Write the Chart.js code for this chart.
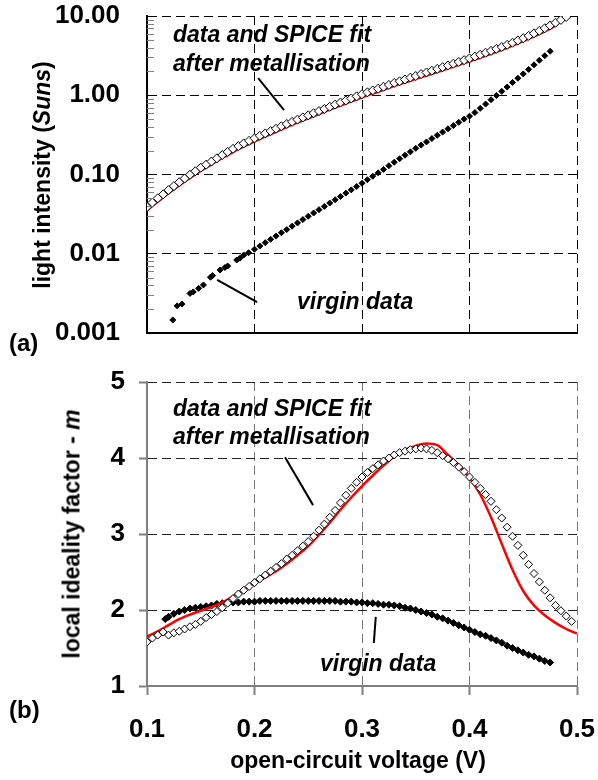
<!DOCTYPE html>
<html>
<head>
<meta charset="utf-8">
<script src="https://cdn.jsdelivr.net/npm/chart.js@4.4.0/dist/chart.umd.min.js"></script>
<style>
  body { margin: 0; background: #fff; }
  #wrap { position: relative; width: 598px; height: 780px; overflow: hidden;
          font-family: "Liberation Sans", Arial, sans-serif; font-weight: bold; color: #000; }
  canvas { position: absolute; left: 0; }
  .lbl { position: absolute; white-space: nowrap; font-size: 23px; line-height: 23px; }
  .note { font-style: italic; }
  .ytitle { position: absolute; white-space: nowrap; font-size: 23px; line-height: 23px;
            transform: translate(-50%, -50%) rotate(-90deg); }
</style>
</head>
<body>
<div id="wrap">
  <canvas id="light" width="598" height="345" style="top:0"></canvas>
  <canvas id="ideal" width="598" height="435" style="top:345px"></canvas>

  <div class="ytitle" style="left:42px; top:175px">light intensity (<i>Suns</i>)</div>
  <div class="ytitle" style="left:72px; top:534px">local ideality factor - <i>m</i></div>
  <div class="lbl" style="left:358px; top:749px; transform:translateX(-50%)">open-circuit voltage (V)</div>
  <div class="lbl" style="left:9px; top:331px; font-size:24px; line-height:24px">(a)</div>
  <div class="lbl" style="left:9px; top:698px; font-size:24px; line-height:24px">(b)</div>

  <div class="lbl note" style="left:173px; top:23px">data and SPICE fit</div>
  <div class="lbl note" style="left:173px; top:52px">after metallisation</div>
  <div class="lbl note" style="left:297px; top:290px">virgin data</div>
  <div class="lbl note" style="left:173px; top:397px">data and SPICE fit</div>
  <div class="lbl note" style="left:173px; top:425px">after metallisation</div>
  <div class="lbl note" style="left:320px; top:652px">virgin data</div>
</div>

<script>
// ── Axis ticks ──────────────────────────────────────────────────────
const voltTicks = [0.1, 0.2, 0.3, 0.4, 0.5];
const lightTicks = [0.001, 0.01, 0.1, 1, 10];
const lightTickLabels = ['0.001', '0.01', '0.10', '1.00', '10.00'];
const idealTicks = [1, 2, 3, 4, 5];

// ── Data after metallisation (open diamonds) ───────────────────────
const voltage = [
  0.100, 0.105, 0.110, 0.115, 0.120, 0.125, 0.130, 0.135, 0.140, 0.145,
  0.150, 0.155, 0.160, 0.165, 0.170, 0.175, 0.180, 0.185, 0.190, 0.195,
  0.200, 0.205, 0.210, 0.215, 0.220, 0.225, 0.230, 0.235, 0.240, 0.245,
  0.250, 0.255, 0.260, 0.265, 0.270, 0.275, 0.280, 0.285, 0.290, 0.295,
  0.300, 0.305, 0.310, 0.315, 0.320, 0.325, 0.330, 0.335, 0.340, 0.345,
  0.350, 0.355, 0.360, 0.365, 0.370, 0.375, 0.380, 0.385, 0.390, 0.395,
  0.400, 0.405, 0.410, 0.415, 0.420, 0.425, 0.430, 0.435, 0.440, 0.445,
  0.450, 0.455, 0.460, 0.465, 0.470, 0.475, 0.480, 0.485, 0.490, 0.495
];
const lightMetal = [
  0.0389, 0.0442, 0.0501, 0.0562, 0.0635, 0.0714, 0.0798, 0.0891, 0.0993, 0.110,
  0.122, 0.133, 0.146, 0.160, 0.176, 0.193, 0.211, 0.228, 0.247, 0.266,
  0.286, 0.308, 0.330, 0.353, 0.378, 0.406, 0.434, 0.462, 0.493, 0.525,
  0.558, 0.594, 0.632, 0.673, 0.716, 0.762, 0.809, 0.859, 0.912, 0.968,
  1.03, 1.09, 1.15, 1.21, 1.28, 1.35, 1.43, 1.50, 1.58, 1.67,
  1.75, 1.85, 1.94, 2.04, 2.15, 2.26, 2.38, 2.50, 2.63, 2.77,
  2.92, 3.08, 3.25, 3.44, 3.63, 3.85, 4.07, 4.33, 4.60, 4.91,
  5.25, 5.62, 6.04, 6.50, 7.01, 7.59, 8.22, 8.93, 9.73
];
const idealMetal = [
  1.58, 1.63, 1.67, 1.71, 1.67, 1.70, 1.72, 1.75, 1.78, 1.81,
  1.85, 1.90, 1.94, 1.98, 2.03, 2.09, 2.15, 2.21, 2.26, 2.31,
  2.36, 2.41, 2.46, 2.51, 2.56, 2.61, 2.67, 2.72, 2.78, 2.84,
  2.90, 2.97, 3.05, 3.13, 3.22, 3.31, 3.41, 3.51, 3.60, 3.68,
  3.75, 3.81, 3.86, 3.91, 3.96, 4.00, 4.04, 4.07, 4.09, 4.11,
  4.12, 4.13, 4.12, 4.10, 4.07, 4.03, 3.99, 3.94, 3.88, 3.82,
  3.75, 3.68, 3.60, 3.52, 3.43, 3.32, 3.21, 3.09, 2.97, 2.85,
  2.72, 2.60, 2.48, 2.37, 2.26, 2.16, 2.06, 1.99, 1.92, 1.85
];

// ── SPICE fit (red line) ──────────────────────────────────────────
const fitVoltage = [
  0.10, 0.11, 0.12, 0.13, 0.14, 0.15, 0.16, 0.17, 0.18, 0.19,
  0.20, 0.21, 0.22, 0.23, 0.24, 0.25, 0.26, 0.27, 0.28, 0.29,
  0.30, 0.31, 0.32, 0.33, 0.34, 0.35, 0.36, 0.37, 0.38, 0.39,
  0.40, 0.41, 0.42, 0.43, 0.44, 0.45, 0.46, 0.47, 0.48, 0.49,
  0.50
];
const lightFit = [
  0.036, 0.046, 0.059, 0.074, 0.092, 0.113, 0.136, 0.164, 0.196, 0.229,
  0.266, 0.307, 0.351, 0.403, 0.458, 0.519, 0.588, 0.666, 0.752, 0.848,
  0.955, 1.07, 1.19, 1.33, 1.47, 1.63, 1.80, 1.99, 2.21, 2.45,
  2.72, 3.03, 3.38, 3.79, 4.29, 4.89, 5.62, 6.50, 7.70, 9.80,
  12.0
];
const idealFit = [
  1.65, 1.72, 1.80, 1.88, 1.94, 1.99, 2.04, 2.10, 2.18, 2.27,
  2.35, 2.43, 2.51, 2.61, 2.72, 2.84, 2.99, 3.15, 3.32, 3.48,
  3.63, 3.77, 3.90, 4.02, 4.11, 4.16, 4.19, 4.17, 4.04, 3.91,
  3.74, 3.52, 3.22, 2.87, 2.53, 2.25, 2.06, 1.93, 1.83, 1.75,
  1.69
];

// ── Virgin data (filled diamonds) ─────────────────────────────────
const virginLightV = [
  0.124, 0.128, 0.1325, 0.140, 0.143, 0.148, 0.1525, 0.159, 0.161, 0.168,
  0.1725, 0.175, 0.1835, 0.1865, 0.190, 0.1945, 0.200,
  0.205, 0.210, 0.215, 0.220, 0.225, 0.230, 0.235, 0.240, 0.245, 0.250,
  0.255, 0.260, 0.265, 0.270, 0.275, 0.280, 0.285, 0.290, 0.295, 0.300,
  0.305, 0.310, 0.315, 0.320, 0.325, 0.330, 0.335, 0.340, 0.345, 0.350,
  0.355, 0.360, 0.365, 0.370, 0.375, 0.380, 0.385, 0.390, 0.395, 0.400,
  0.405, 0.410, 0.415, 0.420, 0.425, 0.430, 0.435, 0.440, 0.445, 0.450,
  0.455, 0.460, 0.465, 0.470, 0.475
];
const virginLight = [
  0.00146, 0.0022, 0.00232, 0.00316, 0.0033, 0.00366, 0.00404, 0.00505, 0.0053, 0.00624,
  0.0067, 0.0070, 0.00834, 0.0088, 0.00964, 0.0103, 0.0114,
  0.0125, 0.0138, 0.0152, 0.0167, 0.0184, 0.0202, 0.0223, 0.0245, 0.0270, 0.0297,
  0.0327, 0.0360, 0.0396, 0.0436, 0.0480, 0.0528, 0.0582, 0.0640, 0.0705, 0.0776,
  0.0859, 0.0951, 0.105, 0.116, 0.129, 0.143, 0.158, 0.175, 0.193, 0.214,
  0.235, 0.258, 0.284, 0.312, 0.343, 0.377, 0.414, 0.455, 0.500, 0.545,
  0.605, 0.684, 0.774, 0.877, 0.993, 1.12, 1.27, 1.45, 1.64, 1.86,
  2.12, 2.42, 2.76, 3.15, 3.59
];
const virginIdealV = [
  0.117, 0.120, 0.125, 0.130, 0.135, 0.140, 0.145, 0.150, 0.155, 0.160,
  0.165, 0.170, 0.175, 0.180, 0.185, 0.190, 0.195, 0.200, 0.205, 0.210,
  0.215, 0.220, 0.225, 0.230, 0.235, 0.240, 0.245, 0.250, 0.255, 0.260,
  0.265, 0.270, 0.275, 0.280, 0.285, 0.290, 0.295, 0.300, 0.305, 0.310,
  0.315, 0.320, 0.325, 0.330, 0.335, 0.340, 0.345, 0.350, 0.355, 0.360,
  0.365, 0.370, 0.375, 0.380, 0.385, 0.390, 0.395, 0.400, 0.405, 0.410,
  0.415, 0.420, 0.425, 0.430, 0.435, 0.440, 0.445, 0.450, 0.455, 0.460,
  0.465, 0.470, 0.475
];
const virginIdeal = [
  1.88, 1.91, 1.95, 1.98, 2.00, 2.02, 2.03, 2.04, 2.05, 2.06,
  2.08, 2.09, 2.09, 2.10, 2.10, 2.11, 2.11, 2.11, 2.12, 2.12,
  2.12, 2.12, 2.12, 2.12, 2.12, 2.12, 2.12, 2.12, 2.12, 2.12,
  2.12, 2.12, 2.12, 2.11, 2.11, 2.11, 2.10, 2.10, 2.09, 2.09,
  2.08, 2.07, 2.07, 2.06, 2.05, 2.03, 2.02, 2.00, 1.98, 1.96,
  1.94, 1.91, 1.89, 1.86, 1.83, 1.80, 1.77, 1.74, 1.71, 1.68,
  1.66, 1.63, 1.60, 1.57, 1.53, 1.50, 1.47, 1.44, 1.41, 1.39,
  1.36, 1.33, 1.31
];

// ── Leader lines (data coordinates: x1, y1, x2, y2) ───────────────
const lightLeaders = [[0.2034, 1.65, 0.2275, 0.65], [0.1653, 0.00467, 0.2024, 0.00246]];
const idealLeaders = [[0.2284, 4.01, 0.2545, 3.38], [0.3128, 1.91, 0.3110, 1.566]];

// ── Helpers ───────────────────────────────────────────────────────
const FONT = '"Liberation Sans", Arial, sans-serif';
const tickFont = { family: FONT, size: 26, weight: 'bold' };

function pts(xs, ys) {
  return ys.map((y, i) => ({ x: xs[i], y }));
}

function fixedTicks(values) {
  return scale => { scale.ticks = values.map(v => ({ value: v })); };
}

function leaderPlugin(lines) {
  return {
    id: 'leaders',
    afterDatasetsDraw(chart) {
      const { ctx, scales: { x, y } } = chart;
      ctx.save();
      ctx.strokeStyle = '#000';
      ctx.lineWidth = 2;
      lines.forEach(([x1, y1, x2, y2]) => {
        ctx.beginPath();
        ctx.moveTo(x.getPixelForValue(x1), y.getPixelForValue(y1));
        ctx.lineTo(x.getPixelForValue(x2), y.getPixelForValue(y2));
        ctx.stroke();
      });
      ctx.restore();
    }
  };
}

// minor log ticks drawn inside the plot, as in the original
const minorTicks = {
  id: 'minorTicks',
  afterDraw(chart) {
    const { ctx, chartArea, scales: { y } } = chart;
    ctx.save();
    ctx.strokeStyle = '#808080';
    ctx.lineWidth = 1;
    lightTicks.slice(0, -1).forEach(d => {
      for (let k = 2; k <= 9; k++) {
        const py = Math.round(y.getPixelForValue(k * d)) + 0.5;
        ctx.beginPath();
        ctx.moveTo(chartArea.left, py);
        ctx.lineTo(chartArea.left + 7, py);
        ctx.stroke();
      }
    });
    ctx.restore();
  }
};

function diamondSet(label, data, filled, radius) {
  return {
    label, data, showLine: false,
    pointStyle: 'rectRot', pointRadius: radius, pointBorderWidth: 1,
    pointBorderColor: '#000', pointBackgroundColor: filled ? '#000' : '#fff',
    borderColor: '#000', backgroundColor: filled ? '#000' : '#fff'
  };
}

function fitSet(data, width) {
  return {
    label: 'SPICE fit', data, showLine: true, pointRadius: 0,
    borderColor: '#ff0000', borderWidth: width, cubicInterpolationMode: 'monotone'
  };
}

// ── (a) light intensity ───────────────────────────────────────────
new Chart(document.getElementById('light'), {
  type: 'scatter',
  data: {
    datasets: [
      diamondSet('data after metallisation', pts(voltage, lightMetal), false, 4.5),
      fitSet(pts(fitVoltage, lightFit), 3.5),
      diamondSet('virgin data', pts(virginLightV, virginLight), true, 3)
    ]
  },
  options: {
    responsive: false, animation: false, devicePixelRatio: 1,
    layout: { padding: { left: 0, top: 16, right: 21, bottom: 0 } },
    plugins: { legend: { display: false }, tooltip: { enabled: false } },
    scales: {
      x: {
        type: 'linear', min: 0.1, max: 0.5,
        afterBuildTicks: fixedTicks(voltTicks),
        ticks: { display: false },
        grid: { color: '#000', lineWidth: 1, drawTicks: false },
        border: { display: true, color: '#000', width: 2, dash: [9, 5] },
        afterFit: s => { s.height = 12; s.paddingLeft = 0; s.paddingRight = 0; }
      },
      y: {
        type: 'logarithmic', min: 0.001, max: 10,
        afterBuildTicks: fixedTicks(lightTicks),
        ticks: {
          font: tickFont, color: '#000', padding: 27, autoSkip: false,
          callback: v => lightTickLabels[lightTicks.findIndex(t => Math.abs(t - v) < t * 1e-6)]
        },
        grid: { color: '#000', lineWidth: 1, drawTicks: false },
        border: { display: true, color: '#000', width: 2, dash: [9, 5] },
        afterFit: s => { s.width = 147; s.paddingTop = 0; s.paddingBottom = 0; }
      }
    }
  },
  plugins: [minorTicks, leaderPlugin(lightLeaders)]
});

// ── (b) local ideality factor ─────────────────────────────────────
new Chart(document.getElementById('ideal'), {
  type: 'scatter',
  data: {
    datasets: [
      diamondSet('data after metallisation', pts(voltage, idealMetal), false, 4),
      fitSet(pts(fitVoltage, idealFit), 2.5),
      diamondSet('virgin data', pts(virginIdealV, virginIdeal), true, 3.5)
    ]
  },
  options: {
    responsive: false, animation: false, devicePixelRatio: 1,
    layout: { padding: { left: 0, top: 37, right: 21, bottom: 0 } },
    plugins: { legend: { display: false }, tooltip: { enabled: false } },
    scales: {
      x: {
        type: 'linear', min: 0.1, max: 0.5,
        afterBuildTicks: fixedTicks(voltTicks),
        ticks: { font: tickFont, color: '#000', padding: 19, maxRotation: 0, autoSkip: false,
                 callback: v => v.toFixed(1) },
        grid: { color: '#777', lineWidth: 1, tickLength: 9, tickColor: '#808080', tickWidth: 2 },
        border: { display: true, color: '#808080', width: 2, dash: [9, 5] },
        afterFit: s => { s.height = 94; s.paddingLeft = 0; s.paddingRight = 0; }
      },
      y: {
        type: 'linear', min: 1, max: 5,
        afterBuildTicks: fixedTicks(idealTicks),
        ticks: { font: tickFont, color: '#000', padding: 14, autoSkip: false },
        grid: { color: '#222', lineWidth: 1, tickLength: 8, tickColor: '#808080', tickWidth: 2 },
        border: { display: true, color: '#808080', width: 2, dash: [9, 5] },
        afterFit: s => { s.width = 147; s.paddingTop = 0; s.paddingBottom = 0; }
      }
    }
  },
  plugins: [leaderPlugin(idealLeaders)]
});
</script>
</body>
</html>
